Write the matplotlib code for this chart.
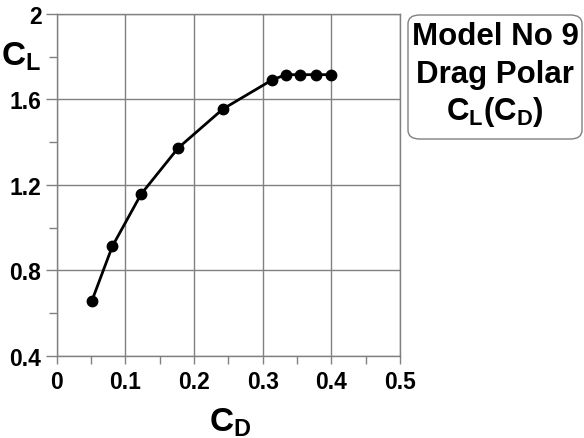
import matplotlib.pyplot as plt
from matplotlib.patches import FancyBboxPatch
from matplotlib.ticker import MultipleLocator

plt.rcParams['font.family'] = 'Liberation Sans'
plt.rcParams['font.weight'] = 'bold'
plt.rcParams['mathtext.fontset'] = 'custom'
plt.rcParams['mathtext.rm'] = 'Liberation Sans:bold'
plt.rcParams['mathtext.bf'] = 'Liberation Sans:bold'
plt.rcParams['mathtext.it'] = 'Liberation Sans:bold'

# drag polar, model no 9
cd = [0.051, 0.081, 0.123, 0.177, 0.242, 0.314, 0.334, 0.354, 0.377, 0.400]
cl = [0.655, 0.912, 1.157, 1.373, 1.555, 1.692, 1.716, 1.716, 1.716, 1.716]
x_ticks = [0, 0.1, 0.2, 0.3, 0.4, 0.5]
x_labels = ['0', '0.1', '0.2', '0.3', '0.4', '0.5']
y_ticks = [0.4, 0.8, 1.2, 1.6, 2.0]
y_labels = ['0.4', '0.8', '1.2', '1.6', '2']

grey = '#808080'

fig = plt.figure(figsize=(5.84, 4.39), dpi=100)
ax = fig.add_axes([0.0971, 0.1875, 0.5879, 0.7783])

ax.plot(cd, cl, color='black', lw=2, marker='o', ms=7.5, zorder=3)

ax.set_xlim(0, 0.5)
ax.set_ylim(0.4, 2.0)
ax.set_xticks(x_ticks)
ax.set_xticklabels(x_labels)
ax.set_yticks(y_ticks)
ax.set_yticklabels(y_labels)
ax.xaxis.set_minor_locator(MultipleLocator(0.05))
ax.yaxis.set_minor_locator(MultipleLocator(0.2))

ax.grid(True, which='major', color=grey, lw=1)
for s in ax.spines.values():
    s.set_color(grey)
    s.set_linewidth(1)
ax.tick_params(which='both', direction='out', length=6, width=1, color=grey,
               labelsize=16.5, pad=4)
ax.tick_params(axis='y', which='major', length=8, pad=3)

fig.text(0.036, 0.87, r'$\mathbf{C}_\mathbf{L}$', fontsize=24, ha='center', va='center')
fig.text(0.395, 0.037, r'$\mathbf{C}_\mathbf{D}$', fontsize=24, ha='center', va='center')

# caption box
W, H = 584, 439
box = FancyBboxPatch((408 / W, 1 - 140 / H), 174 / W, 124 / H,
                     boxstyle='round,pad=0,rounding_size=0.02',
                     transform=fig.transFigure, fc='white', ec=grey, lw=1)
fig.patches.append(box)
cx = 495 / W
fig.text(cx, 1 - 37 / H, 'Model No 9', fontsize=22.5, ha='center', va='center')
fig.text(cx, 1 - 75 / H, 'Drag Polar', fontsize=22.5, ha='center', va='center')
fig.text(cx, 1 - 112 / H, r'$\mathbf{C}_\mathbf{L}\mathbf{(C}_\mathbf{D}\mathbf{)}$',
         fontsize=22.5, ha='center', va='center')

fig.savefig('out.png', dpi=100)
